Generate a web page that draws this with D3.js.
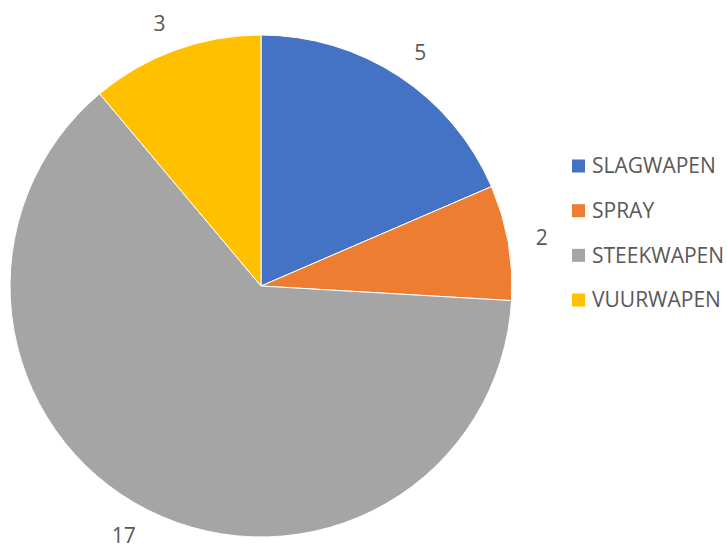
<!DOCTYPE html>
<html>
<head>
<meta charset="utf-8">
<script src="https://cdn.jsdelivr.net/npm/d3@7"></script>
<style>
  body { margin: 0; background: #fff; }
  text { font-family: "Open Sans", "Liberation Sans", sans-serif; fill: #595959; }
</style>
</head>
<body>
<svg id="chart" width="727" height="549"></svg>
<script>
// categories and counts
var categories = ["SLAGWAPEN", "SPRAY", "STEEKWAPEN", "VUURWAPEN"];
var counts = [5, 2, 17, 3];
var colors = ["#4472C4", "#ED7D31", "#A5A5A5", "#FFC000"];

var svg = d3.select('#chart');
var cx = 261, cy = 286, radius = 251;

var color = d3.scaleOrdinal().domain(categories).range(colors);

var pie = d3.pie().sort(null).value(function(d){ return d.value; });
var rows = categories.map(function(c, i){ return {name: c, value: counts[i]}; });
var arcs = pie(rows);

var arc = d3.arc().innerRadius(0).outerRadius(radius);
var labelArc = d3.arc().innerRadius(279).outerRadius(279);

var g = svg.append('g').attr('transform', 'translate(' + cx + ',' + cy + ')');

g.selectAll('path')
    .data(arcs)
    .enter()
    .append('path')
    .attr('d', arc)
    .attr('fill', function(d){ return color(d.data.name); })
    .attr('stroke', '#fff')
    .attr('stroke-width', 1);

g.selectAll('text.lbl')
    .data(arcs)
    .enter()
    .append('text')
    .attr('class', 'lbl')
    .attr('transform', function(d){
        var p = labelArc.centroid(d);
        return 'translate(' + p[0] + ',' + p[1] + ')';
    })
    .attr('text-anchor', function(d){
        var mid = (d.startAngle + d.endAngle) / 2;
        return mid < Math.PI ? 'start' : 'end';
    })
    .attr('dy', '0.35em')
    .style('font-size', '21px')
    .text(function(d){ return d.data.value; });

// legend
var legendY = d3.scalePoint().domain(categories).range([166, 300]);
var legend = svg.append('g');
var item = legend.selectAll('g')
    .data(categories)
    .enter()
    .append('g')
    .attr('transform', function(d){ return 'translate(572,' + legendY(d) + ')'; });

item.append('rect')
    .attr('x', 0)
    .attr('y', -6.5)
    .attr('width', 13)
    .attr('height', 13)
    .attr('fill', function(d){ return color(d); });

item.append('text')
    .attr('x', 20)
    .attr('dy', '0.35em')
    .style('font-size', '21px')
    .text(function(d){ return d; });
</script>
</body>
</html>
